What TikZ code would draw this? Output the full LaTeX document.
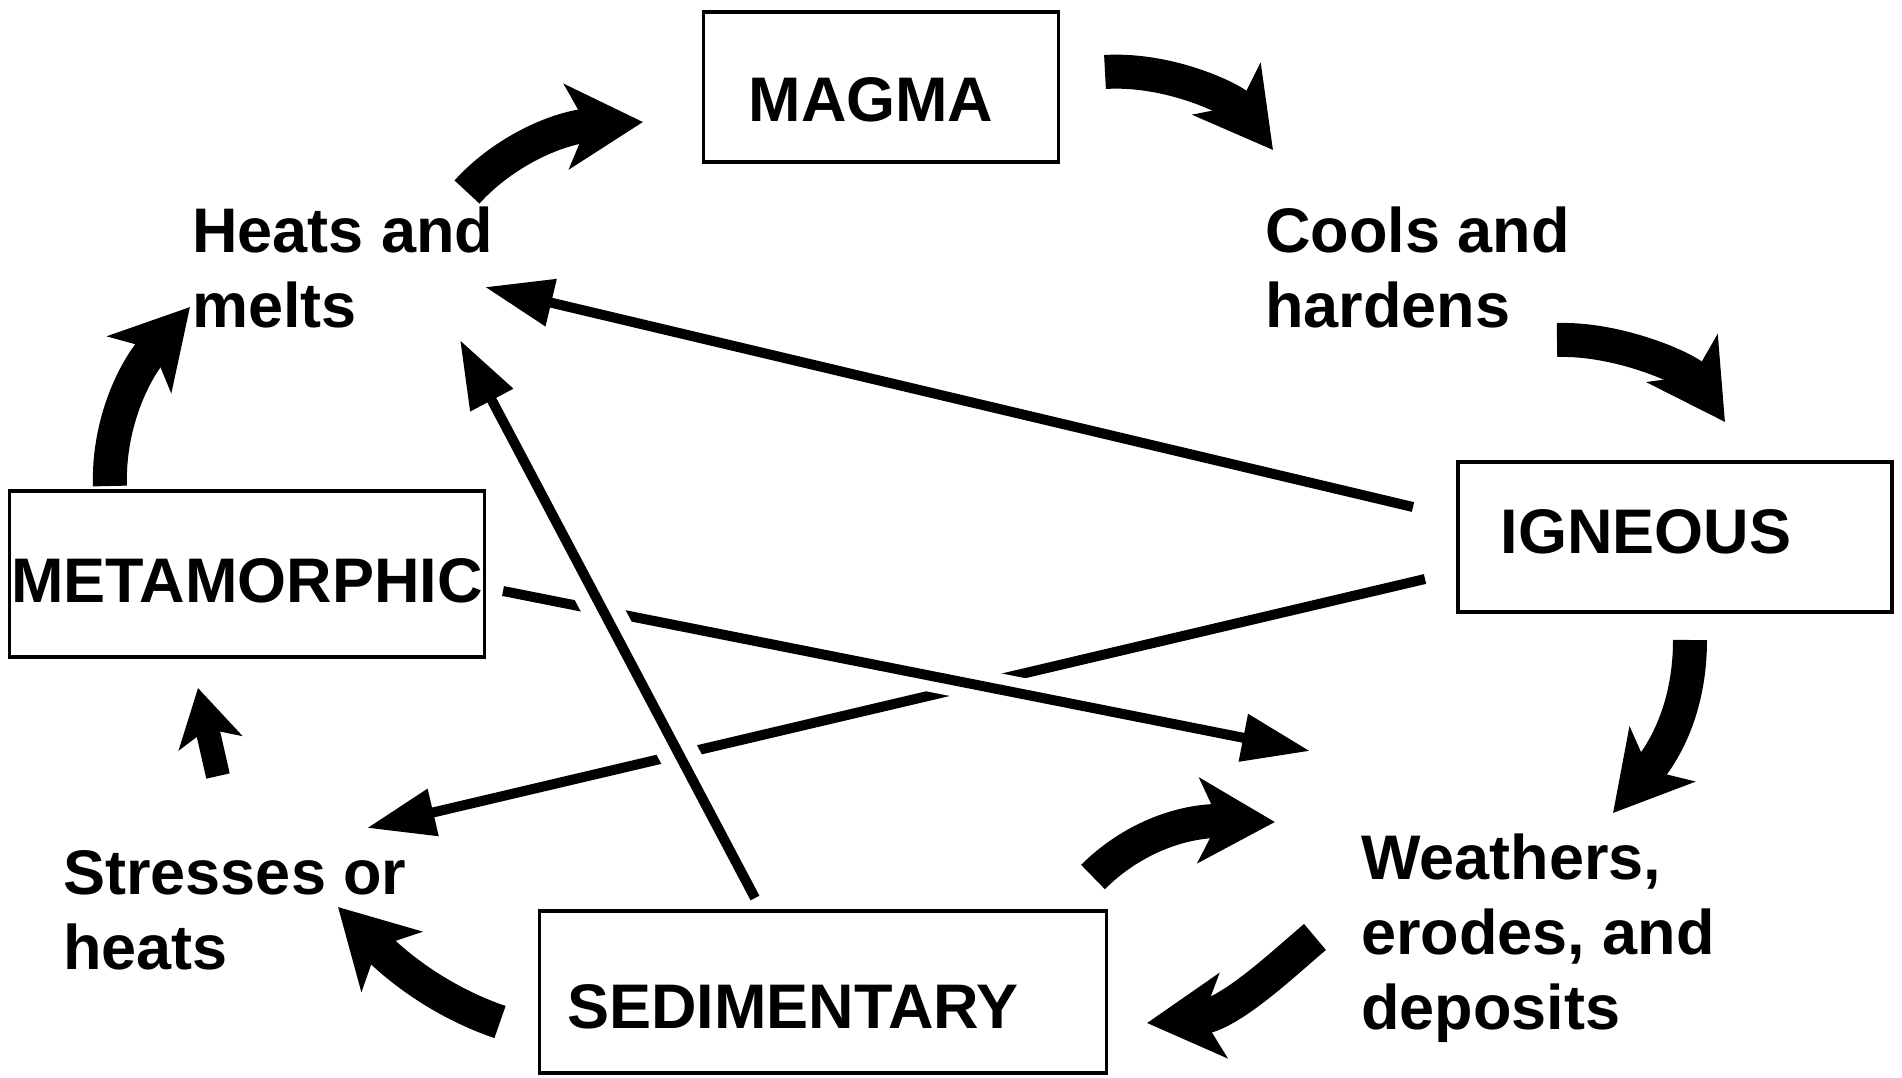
\documentclass[tikz,border=0pt]{standalone}
\usepackage{fontspec}
\setmainfont{Liberation Sans}
\usetikzlibrary{arrows.meta}
\begin{document}
\begin{tikzpicture}[x=0.5pt,y=-0.5pt,
  txt/.style={font=\fontsize{31.5}{37.5}\selectfont\bfseries},
  box/.style={txt, draw, line width=1.8pt, inner sep=0pt},
  lbl/.style={txt, align=left, inner sep=0pt, anchor=base west},
  fat/.style={line width=17pt, -{Stealth[length=38pt,width=42pt,inset=10pt]}},
  fatsmall/.style={line width=12pt, -{Stealth[length=28pt,width=32pt,inset=7pt]}},
  thin/.style={line width=5pt, -{Triangle[length=34pt,width=23pt]}},
  gapC/.style={preaction={draw=white, line width=16pt, -}},
  gapB/.style={preaction={draw=white, line width=20pt, -}}]
\useasboundingbox (0,0) rectangle (1902,1077);
\fill[white] (0,0) rectangle (1902,1077);

% boxes
\node[box, minimum width=177.5pt, minimum height=75pt, text height=34.6pt, text depth=0pt] (magma) at (881,87) {MAGMA\rule{10pt}{0pt}};
\node[box, minimum width=217pt, minimum height=75pt, text height=16.6pt, text depth=0pt] (igneous) at (1675,537) {IGNEOUS\rule{29pt}{0pt}};
\node[box, minimum width=237.5pt, minimum height=83pt, text height=28.6pt, text depth=0pt] (meta) at (247,574) {METAMORPHIC};
\node[box, minimum width=283.5pt, minimum height=81pt, text height=36.6pt, text depth=0pt] (sed) at (823,992) {SEDIMENTARY\rule{30pt}{0pt}};

% labels (anchored at the baseline of the last line)
\node[lbl] (heats) at (192,327) {Heats and\\melts};
\node[lbl] (cools) at (1265,327) {Cools and\\hardens};
\node[lbl] (weathers) at (1361,1029) {Weathers,\\erodes, and\\deposits};
\node[lbl] (stresses) at (63,969) {Stresses or\\heats};

% fat arrow end points
\coordinate (a1s) at (467,192);  \coordinate (a1e) at (643,122);
\coordinate (a2s) at (1105,72);  \coordinate (a2e) at (1273,150);
\coordinate (a3s) at (1557,340); \coordinate (a3e) at (1725,422);
\coordinate (a4s) at (1690,640); \coordinate (a4e) at (1613,813);
\coordinate (a5s) at (1093,877); \coordinate (a5e) at (1275,822);
\coordinate (a6s) at (1315,937); \coordinate (a6e) at (1147,1023);
\coordinate (a7s) at (500,1022); \coordinate (a7e) at (338,907);
\coordinate (a8s) at (218,776);  \coordinate (a8e) at (198,688);
\coordinate (a9s) at (110,486);  \coordinate (a9e) at (190,307);

\draw[fat] (a1s) .. controls (505,150) and (560,127) .. (a1e);
\draw[fat] (a2s) .. controls (1170,68) and (1235,100) .. (a2e);
\draw[fat] (a3s) .. controls (1620,338) and (1690,370) .. (a3e);
\draw[fat] (a4s) .. controls (1690,700) and (1670,745) .. (a4e);
\draw[fat] (a5s) .. controls (1130,840) and (1180,820) .. (a5e);
\draw[fat] (a6s) .. controls (1285,962) and (1230,1015) .. (a6e);
\draw[fat] (a7s) .. controls (450,1005) and (405,975) .. (a7e);
\draw[fatsmall] (a8s) -- (a8e);
\draw[fat] (a9s) .. controls (108,430) and (130,375) .. (a9e);

% thin straight arrows
\coordinate (tAs) at (1413,507); \coordinate (tAe) at (485,287);
\coordinate (tBs) at (755,898);  \coordinate (tBe) at (460,340);
\coordinate (tCs) at (503,591);  \coordinate (tCe) at (1310,751);
\coordinate (tDs) at (1425,579); \coordinate (tDe) at (367,828);

\draw[thin] (tAs) -- (tAe);
\draw[thin] (tDs) -- (tDe);
\draw[thin, gapC] (tCs) -- (tCe);
\draw[thin, gapB] (tBs) -- (tBe);
\end{tikzpicture}
\end{document}
